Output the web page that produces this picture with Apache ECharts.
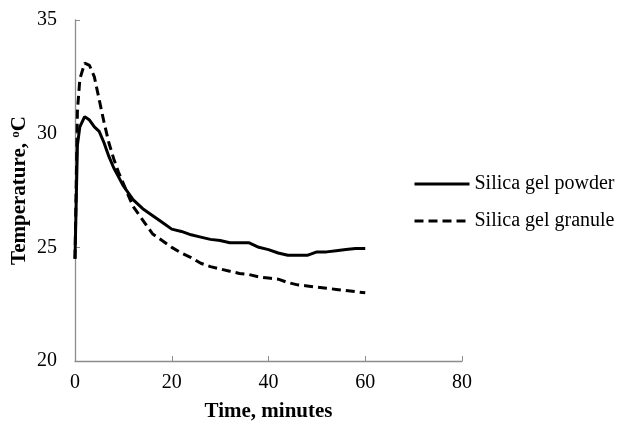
<!DOCTYPE html>
<html>
<head>
<meta charset="utf-8">
<script src="https://cdn.jsdelivr.net/npm/echarts@6/dist/echarts.min.js"></script>
<style>
html, body { margin: 0; padding: 0; background: #fff; }
#chart { width: 624px; height: 428px; }
</style>
</head>
<body>
<div id="chart"></div>
<script>
var time = [0, 0.5, 1, 2, 3, 4, 5, 6, 7, 8, 9, 10, 12, 14, 16, 18, 20, 22, 24, 26, 28, 30,
    32, 34, 36, 38, 40, 42, 44, 46, 48, 50, 52, 54, 56, 58, 60]
var powder = [24.5, 29.5, 30.3, 30.75, 30.6, 30.3, 30.1, 29.6, 29.0, 28.5, 28.1, 27.7, 27.1, 26.7,
    26.4, 26.1, 25.8, 25.7, 25.55, 25.45, 25.35, 25.3, 25.2, 25.2, 25.2, 25.0, 24.9, 24.75,
    24.65, 24.65, 24.65, 24.8, 24.8, 24.85, 24.9, 24.95, 24.95]
var granule = [24.5, 31.0, 32.4, 33.1, 33.0, 32.5, 31.5, 30.5, 29.6, 28.9, 28.3, 27.8, 26.8, 26.2,
    25.6, 25.3, 25.0, 24.75, 24.55, 24.3, 24.15, 24.05, 23.95, 23.85, 23.8, 23.7, 23.65, 23.6,
    23.45, 23.35, 23.3, 23.25, 23.2, 23.15, 23.1, 23.05, 23.0]

var font = 'Liberation Serif, Times New Roman, serif'

function pairs(vals){
    return time.map((t, i) => [t, vals[i]])
}

var myChart = echarts.init(document.getElementById('chart'))
var option = {
    animation: false,
    grid: {
        left: 75,
        top: 20,
        right: 162,
        bottom: 67,
        outerBoundsMode: 'none',
    },
    legend: {
        orient: 'vertical',
        left: 408,
        top: 169,
        itemWidth: 55,
        itemHeight: 20,
        itemGap: 17,
        itemStyle: { opacity: 0 },
        lineStyle: { width: 3 },
        textStyle: {
            fontFamily: font,
            fontSize: 20,
            color: '#000',
        },
        data: ['Silica gel powder', 'Silica gel granule']
    },
    xAxis: {
        type: 'value',
        min: 0,
        max: 80,
        interval: 20,
        name: 'Time, minutes',
        nameLocation: 'middle',
        nameGap: 40,
        nameMoveOverlap: false,
        nameTextStyle: {
            fontFamily: font,
            fontSize: 21,
            fontWeight: 'bold',
            color: '#000',
        },
        axisLine: { lineStyle: { color: '#8c8c8c', width: 1.3 } },
        axisTick: { inside: true, length: 5, lineStyle: { color: '#8c8c8c' } },
        splitLine: { show: false },
        axisLabel: {
            fontFamily: font,
            fontSize: 20,
            color: '#000',
            margin: 12,
        },
    },
    yAxis: {
        type: 'value',
        min: 20,
        max: 35,
        interval: 5,
        name: 'Temperature, {sup|o}C',
        nameLocation: 'middle',
        nameGap: 45,
        nameMoveOverlap: false,
        nameTextStyle: {
            fontFamily: font,
            fontSize: 21,
            fontWeight: 'bold',
            color: '#000',
            rich: {
                sup: {
                    fontFamily: font,
                    fontSize: 13,
                    fontWeight: 'bold',
                    verticalAlign: 'top',
                    padding: [0, 0, 8, 0],
                }
            }
        },
        axisLine: { show: true, lineStyle: { color: '#8c8c8c', width: 1.3 } },
        axisTick: { show: true, inside: true, length: 5, lineStyle: { color: '#8c8c8c' } },
        splitLine: { show: false },
        axisLabel: {
            fontFamily: font,
            fontSize: 20,
            color: '#000',
            margin: 18,
        },
    },
    series: [
        {
            name: 'Silica gel powder',
            type: 'line',
            symbol: 'none',
            color: '#000',
            lineStyle: { color: '#000', width: 3 },
            data: pairs(powder)
        },
        {
            name: 'Silica gel granule',
            type: 'line',
            symbol: 'none',
            color: '#000',
            lineStyle: { color: '#000', width: 3, type: [9, 5] },
            data: pairs(granule)
        }
    ]
}
myChart.setOption(option)
</script>
</body>
</html>
